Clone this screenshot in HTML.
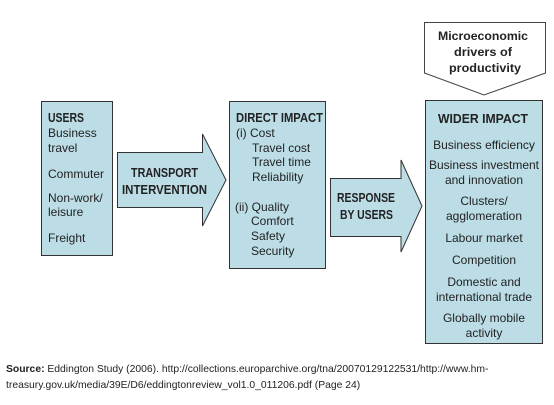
<!DOCTYPE html>
<html><head><style>
body{margin:0;background:#fff;}
svg{display:block;}
text{font-family:"Liberation Sans",sans-serif;fill:#222;}
.b{font-weight:bold;}
</style></head><body>
<svg width="554" height="405" viewBox="0 0 554 405">
<g fill="#bcdde6" stroke="#333" stroke-width="1">
<rect x="41.5" y="101.5" width="71" height="154"/>
<polygon points="117.5,152.5 202.5,152.5 202.5,134 226,180 202.5,226 202.5,207.5 117.5,207.5"/>
<rect x="229.5" y="101.5" width="96" height="167"/>
<polygon points="330.5,178.5 401,178.5 401,160 422,206 401,252 401,236.5 330.5,236.5"/>
<rect x="425.5" y="100.5" width="117" height="243"/>
</g>
<polygon points="424.5,22.5 545.5,22.5 545.5,73 484,95 424.5,73" fill="#fff" stroke="#444"/>
<g font-size="12">
<text x="48" y="122" class="b" font-size="13" textLength="36" lengthAdjust="spacingAndGlyphs">USERS</text>
<text x="48" y="137">Business</text>
<text x="48" y="152">travel</text>
<text x="48" y="178">Commuter</text>
<text x="48" y="202">Non-work/</text>
<text x="48" y="216">leisure</text>
<text x="48" y="242">Freight</text>
<text x="131" y="177" class="b" font-size="13" textLength="67" lengthAdjust="spacingAndGlyphs">TRANSPORT</text>
<text x="122" y="194" class="b" font-size="13" textLength="85" lengthAdjust="spacingAndGlyphs">INTERVENTION</text>
<text x="236" y="122" class="b" font-size="13" textLength="87" lengthAdjust="spacingAndGlyphs">DIRECT IMPACT</text>
<text x="236" y="137">(i)  Cost</text>
<text x="252" y="152">Travel cost</text>
<text x="252" y="166">Travel time</text>
<text x="252" y="181">Reliability</text>
<text x="235" y="211">(ii) Quality</text>
<text x="251" y="225">Comfort</text>
<text x="251" y="240">Safety</text>
<text x="251" y="255">Security</text>
<text x="337" y="202" class="b" font-size="13" textLength="58" lengthAdjust="spacingAndGlyphs">RESPONSE</text>
<text x="340" y="219" class="b" font-size="13" textLength="53" lengthAdjust="spacingAndGlyphs">BY USERS</text>
<text x="438" y="123" class="b" font-size="13" textLength="90" lengthAdjust="spacingAndGlyphs">WIDER IMPACT</text>
<text x="438" y="40" class="b" textLength="90" lengthAdjust="spacingAndGlyphs">Microeconomic</text>
<text x="454" y="56" class="b" textLength="58" lengthAdjust="spacingAndGlyphs">drivers of</text>
<text x="449" y="72" class="b" textLength="72" lengthAdjust="spacingAndGlyphs">productivity</text>
<g text-anchor="middle">
<text x="484" y="149">Business efficiency</text>
<text x="484" y="169">Business investment</text>
<text x="484" y="184">and innovation</text>
<text x="484" y="205">Clusters/</text>
<text x="484" y="220">agglomeration</text>
<text x="484" y="242">Labour market</text>
<text x="484" y="264">Competition</text>
<text x="484" y="286">Domestic and</text>
<text x="484" y="301">international trade</text>
<text x="484" y="322">Globally mobile</text>
<text x="484" y="337">activity</text>
</g>
</g>
<g font-size="10.35">
<text x="6" y="372"><tspan font-weight="bold">Source:</tspan> Eddington Study (2006). http://collections.europarchive.org/tna/20070129122531/http://www.hm-</text>
<text x="6" y="388">treasury.gov.uk/media/39E/D6/eddingtonreview_vol1.0_011206.pdf (Page 24)</text>
</g>
</svg>
</body></html>
